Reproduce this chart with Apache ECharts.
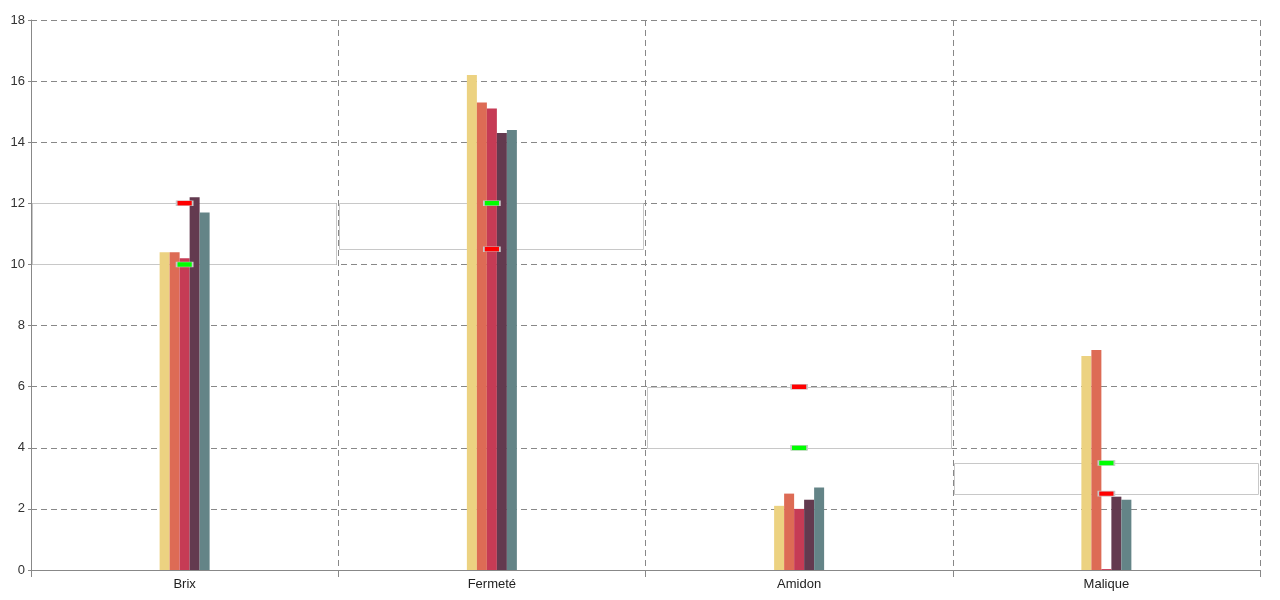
<!DOCTYPE html>
<html>
<head>
<meta charset="utf-8">
<script src="https://cdn.jsdelivr.net/npm/echarts@6/dist/echarts.min.js"></script>
<style>html,body{margin:0;padding:0;background:#fff}#c{width:1280px;height:600px}</style>
</head>
<body>
<div id="c"></div>
<script>
var categories = ['Brix', 'Fermeté', 'Amidon', 'Malique'];
var s1 = [10.4, 16.2, 2.1, 7.0];
var s2 = [10.4, 15.3, 2.5, 7.2];
var s3 = [10.2, 15.1, 2.0, 0.03];
var s4 = [12.2, 14.3, 2.3, 2.4];
var s5 = [11.7, 14.4, 2.7, 2.3];
var redMarks = [12, 10.5, 6, 2.5];
var greenMarks = [10, 12, 4, 3.5];
var yTicks = [0, 2, 4, 6, 8, 10, 12, 14, 16, 18];

var colors = ['#ecd281', '#dd6b55', '#c63b55', '#633a4f', '#648487'];
var seriesData = [s1, s2, s3, s4, s5];

var boxData = categories.map(function (c, i) {
  return [i, Math.min(redMarks[i], greenMarks[i]), Math.max(redMarks[i], greenMarks[i])];
});

var series = [];
series.push({
  type: 'custom',
  z: 1,
  silent: true,
  data: boxData,
  encode: { x: 0, y: [1, 2] },
  renderItem: function (params, api) {
    var idx = api.value(0);
    var lo = api.coord([idx, api.value(1)]);
    var hi = api.coord([idx, api.value(2)]);
    var w = api.size([1, 0])[0];
    return {
      type: 'rect',
      shape: { x: Math.round(lo[0] - w / 2) + 1.5, y: Math.round(hi[1]) + 0.5, width: Math.round(w) - 3, height: Math.round(lo[1] - hi[1]) },
      style: { fill: 'none', stroke: '#c8c8c8', lineWidth: 1 }
    };
  }
});
seriesData.forEach(function (d, i) {
  series.push({
    type: 'bar',
    z: 2,
    data: d,
    barWidth: 10,
    barGap: '0%',
    itemStyle: { color: colors[i] }
  });
});
series.push({
  type: 'scatter', z: 5, data: redMarks, symbol: 'rect', symbolSize: [16, 5],
  itemStyle: { color: '#ff0000', borderColor: '#c8c8c8', borderWidth: 1, opacity: 1 }
});
series.push({
  type: 'scatter', z: 5, data: greenMarks, symbol: 'rect', symbolSize: [16, 5],
  itemStyle: { color: '#00ff00', borderColor: '#c8c8c8', borderWidth: 1, opacity: 1 }
});

var chart = echarts.init(document.getElementById('c'), null, { renderer: 'canvas' });
chart.setOption({
  animation: false,
  backgroundColor: '#fff',
  textStyle: { fontFamily: 'Liberation Sans, Arial, sans-serif' },
  grid: { left: 31, right: 20, top: 20, bottom: 30, containLabel: false },
  xAxis: {
    type: 'category',
    data: categories,
    boundaryGap: true,
    axisLine: { show: true, lineStyle: { color: '#888', width: 1 } },
    axisTick: { show: true, length: 7, lineStyle: { color: '#888' } },
    axisLabel: { color: '#222', fontSize: 13, margin: 8 },
    splitLine: { show: true, lineStyle: { color: '#888', type: [6, 4], width: 1 } }
  },
  yAxis: {
    type: 'value',
    min: yTicks[0],
    max: yTicks[yTicks.length - 1],
    interval: 2,
    axisLine: { show: true, lineStyle: { color: '#888', width: 1 } },
    axisTick: { show: true, length: 3, lineStyle: { color: '#888' } },
    axisLabel: { color: '#333', fontSize: 13, margin: 6 },
    splitLine: { show: true, lineStyle: { color: '#888', type: [6, 4], width: 1 } }
  },
  series: series
});
</script>
</body>
</html>
